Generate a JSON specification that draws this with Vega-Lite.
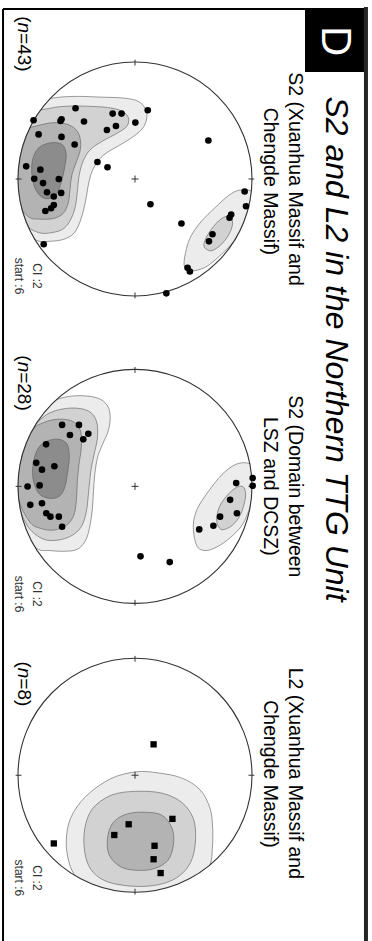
{
"$schema": "https://vega.github.io/schema/vega-lite/v6.json",
"width": 372, "height": 941, "padding": 0,
"autosize": {"type": "none"},
"background": "white",
"config": {"view": {"stroke": null}},
"datasets": {
"nets": [{"net":1,"x":0,"y":0},{"net":2,"x":0,"y":2.627},{"net":3,"x":0,"y":5.096}],
"ticks": [
{"x":0,"y":-1.02,"x2":0,"y2":-0.97},{"x":0,"y":0.97,"x2":0,"y2":1.02},{"x":-1.02,"y":0,"x2":-0.97,"y2":0},{"x":0.97,"y":0,"x2":1.02,"y2":0},{"x":-0.03,"y":0,"x2":0.03,"y2":0},{"x":0,"y":-0.03,"x2":0,"y2":0.03},
{"x":0,"y":1.607,"x2":0,"y2":1.657},{"x":0,"y":3.597,"x2":0,"y2":3.647},{"x":-1.02,"y":2.627,"x2":-0.97,"y2":2.627},{"x":0.97,"y":2.627,"x2":1.02,"y2":2.627},{"x":-0.03,"y":2.627,"x2":0.03,"y2":2.627},{"x":0,"y":2.597,"x2":0,"y2":2.657},
{"x":0,"y":4.076,"x2":0,"y2":4.126},{"x":0,"y":6.066,"x2":0,"y2":6.116},{"x":-1.02,"y":5.096,"x2":-0.97,"y2":5.096},{"x":0.97,"y":5.096,"x2":1.02,"y2":5.096},{"x":-0.03,"y":5.096,"x2":0.03,"y2":5.096},{"x":0,"y":5.066,"x2":0,"y2":5.126}
],
"contours": [
{"p":"1A","l":1,"i":0,"x":-0.780,"y":-0.668},{"p":"1A","l":1,"i":1,"x":-0.666,"y":-0.697},{"p":"1A","l":1,"i":2,"x":-0.493,"y":-0.706},{"p":"1A","l":1,"i":3,"x":-0.292,"y":-0.700},{"p":"1A","l":1,"i":4,"x":-0.091,"y":-0.691},{"p":"1A","l":1,"i":5,"x":0.030,"y":-0.663},{"p":"1A","l":1,"i":6,"x":0.090,"y":-0.597},{"p":"1A","l":1,"i":7,"x":0.101,"y":-0.525},{"p":"1A","l":1,"i":8,"x":0.070,"y":-0.439},{"p":"1A","l":1,"i":9,"x":-0.017,"y":-0.361},{"p":"1A","l":1,"i":10,"x":-0.131,"y":-0.289},{"p":"1A","l":1,"i":11,"x":-0.235,"y":-0.229},{"p":"1A","l":1,"i":12,"x":-0.307,"y":-0.166},{"p":"1A","l":1,"i":13,"x":-0.361,"y":-0.080},{"p":"1A","l":1,"i":14,"x":-0.393,"y":0.021},{"p":"1A","l":1,"i":15,"x":-0.413,"y":0.136},{"p":"1A","l":1,"i":16,"x":-0.436,"y":0.251},{"p":"1A","l":1,"i":17,"x":-0.470,"y":0.366},{"p":"1A","l":1,"i":18,"x":-0.522,"y":0.463},{"p":"1A","l":1,"i":19,"x":-0.608,"y":0.515},{"p":"1A","l":1,"i":20,"x":-0.723,"y":0.532},{"p":"1A","l":1,"i":21,"x":-0.838,"y":0.526},{"p":"1A","l":1,"i":22,"x":-0.947,"y":0.423},{"p":"1A","l":1,"i":23,"x":-1.025,"y":0.193},{"p":"1A","l":1,"i":24,"x":-1.039,"y":0.007},{"p":"1A","l":1,"i":25,"x":-1.016,"y":-0.238},{"p":"1A","l":1,"i":26,"x":-0.938,"y":-0.439},{"p":"1A","l":1,"i":27,"x":-0.852,"y":-0.582},
{"p":"1B","l":2,"i":0,"x":-0.867,"y":-0.553},{"p":"1B","l":2,"i":1,"x":-0.723,"y":-0.605},{"p":"1B","l":2,"i":2,"x":-0.579,"y":-0.622},{"p":"1B","l":2,"i":3,"x":-0.407,"y":-0.622},{"p":"1B","l":2,"i":4,"x":-0.235,"y":-0.611},{"p":"1B","l":2,"i":5,"x":-0.114,"y":-0.582},{"p":"1B","l":2,"i":6,"x":-0.057,"y":-0.525},{"p":"1B","l":2,"i":7,"x":-0.068,"y":-0.453},{"p":"1B","l":2,"i":8,"x":-0.149,"y":-0.393},{"p":"1B","l":2,"i":9,"x":-0.278,"y":-0.324},{"p":"1B","l":2,"i":10,"x":-0.384,"y":-0.249},{"p":"1B","l":2,"i":11,"x":-0.444,"y":-0.151},{"p":"1B","l":2,"i":12,"x":-0.476,"y":-0.037},{"p":"1B","l":2,"i":13,"x":-0.493,"y":0.107},{"p":"1B","l":2,"i":14,"x":-0.508,"y":0.228},{"p":"1B","l":2,"i":15,"x":-0.545,"y":0.337},{"p":"1B","l":2,"i":16,"x":-0.608,"y":0.423},{"p":"1B","l":2,"i":17,"x":-0.709,"y":0.458},{"p":"1B","l":2,"i":18,"x":-0.824,"y":0.458},{"p":"1B","l":2,"i":19,"x":-0.938,"y":0.380},{"p":"1B","l":2,"i":20,"x":-1.016,"y":0.165},{"p":"1B","l":2,"i":21,"x":-1.033,"y":-0.037},{"p":"1B","l":2,"i":22,"x":-0.996,"y":-0.324},
{"p":"1C","l":3,"i":0,"x":-0.953,"y":-0.410},{"p":"1C","l":3,"i":1,"x":-0.809,"y":-0.462},{"p":"1C","l":3,"i":2,"x":-0.666,"y":-0.482},{"p":"1C","l":3,"i":3,"x":-0.545,"y":-0.453},{"p":"1C","l":3,"i":4,"x":-0.479,"y":-0.381},{"p":"1C","l":3,"i":5,"x":-0.465,"y":-0.266},{"p":"1C","l":3,"i":6,"x":-0.499,"y":-0.151},{"p":"1C","l":3,"i":7,"x":-0.539,"y":-0.037},{"p":"1C","l":3,"i":8,"x":-0.556,"y":0.093},{"p":"1C","l":3,"i":9,"x":-0.571,"y":0.208},{"p":"1C","l":3,"i":10,"x":-0.614,"y":0.294},{"p":"1C","l":3,"i":11,"x":-0.694,"y":0.337},{"p":"1C","l":3,"i":12,"x":-0.809,"y":0.343},{"p":"1C","l":3,"i":13,"x":-0.910,"y":0.323},{"p":"1C","l":3,"i":14,"x":-0.996,"y":0.193},{"p":"1C","l":3,"i":15,"x":-1.025,"y":-0.094},{"p":"1C","l":3,"i":16,"x":-0.996,"y":-0.295},
{"p":"1D","l":4,"i":0,"x":-0.824,"y":-0.266},{"p":"1D","l":4,"i":1,"x":-0.723,"y":-0.309},{"p":"1D","l":4,"i":2,"x":-0.623,"y":-0.295},{"p":"1D","l":4,"i":3,"x":-0.588,"y":-0.209},{"p":"1D","l":4,"i":4,"x":-0.602,"y":-0.094},{"p":"1D","l":4,"i":5,"x":-0.628,"y":0.021},{"p":"1D","l":4,"i":6,"x":-0.666,"y":0.121},{"p":"1D","l":4,"i":7,"x":-0.723,"y":0.165},{"p":"1D","l":4,"i":8,"x":-0.795,"y":0.156},{"p":"1D","l":4,"i":9,"x":-0.852,"y":0.084},{"p":"1D","l":4,"i":10,"x":-0.881,"y":-0.037},{"p":"1D","l":4,"i":11,"x":-0.875,"y":-0.166},
{"p":"1E","l":1,"i":0,"x":0.440,"y":0.595},{"p":"1E","l":1,"i":1,"x":0.420,"y":0.739},{"p":"1E","l":1,"i":2,"x":0.478,"y":0.785},{"p":"1E","l":1,"i":3,"x":0.598,"y":0.756},{"p":"1E","l":1,"i":4,"x":0.713,"y":0.667},{"p":"1E","l":1,"i":5,"x":0.828,"y":0.552},{"p":"1E","l":1,"i":6,"x":0.920,"y":0.423},{"p":"1E","l":1,"i":7,"x":0.977,"y":0.279},{"p":"1E","l":1,"i":8,"x":1.029,"y":0.193},{"p":"1E","l":1,"i":9,"x":1.006,"y":0.107},{"p":"1E","l":1,"i":10,"x":0.891,"y":0.096},{"p":"1E","l":1,"i":11,"x":0.799,"y":0.142},{"p":"1E","l":1,"i":12,"x":0.684,"y":0.245},{"p":"1E","l":1,"i":13,"x":0.569,"y":0.360},{"p":"1E","l":1,"i":14,"x":0.483,"y":0.480},
{"p":"1F","l":2,"i":0,"x":0.598,"y":0.590},{"p":"1F","l":2,"i":1,"x":0.656,"y":0.613},{"p":"1F","l":2,"i":2,"x":0.742,"y":0.555},{"p":"1F","l":2,"i":3,"x":0.811,"y":0.458},{"p":"1F","l":2,"i":4,"x":0.834,"y":0.366},{"p":"1F","l":2,"i":5,"x":0.793,"y":0.317},{"p":"1F","l":2,"i":6,"x":0.713,"y":0.360},{"p":"1F","l":2,"i":7,"x":0.633,"y":0.458},{"p":"1F","l":2,"i":8,"x":0.592,"y":0.544},
{"p":"2A","l":1,"i":0,"x":-0.795,"y":1.981},{"p":"2A","l":1,"i":1,"x":-0.680,"y":1.889},{"p":"2A","l":1,"i":2,"x":-0.499,"y":1.852},{"p":"2A","l":1,"i":3,"x":-0.321,"y":1.872},{"p":"2A","l":1,"i":4,"x":-0.235,"y":1.938},{"p":"2A","l":1,"i":5,"x":-0.212,"y":2.039},{"p":"2A","l":1,"i":6,"x":-0.229,"y":2.154},{"p":"2A","l":1,"i":7,"x":-0.278,"y":2.269},{"p":"2A","l":1,"i":8,"x":-0.321,"y":2.383},{"p":"2A","l":1,"i":9,"x":-0.344,"y":2.527},{"p":"2A","l":1,"i":10,"x":-0.355,"y":2.671},{"p":"2A","l":1,"i":11,"x":-0.364,"y":2.814},{"p":"2A","l":1,"i":12,"x":-0.384,"y":2.958},{"p":"2A","l":1,"i":13,"x":-0.421,"y":3.087},{"p":"2A","l":1,"i":14,"x":-0.493,"y":3.165},{"p":"2A","l":1,"i":15,"x":-0.608,"y":3.182},{"p":"2A","l":1,"i":16,"x":-0.723,"y":3.176},{"p":"2A","l":1,"i":17,"x":-0.838,"y":3.159},{"p":"2A","l":1,"i":18,"x":-0.953,"y":3.015},{"p":"2A","l":1,"i":19,"x":-1.025,"y":2.728},{"p":"2A","l":1,"i":20,"x":-1.025,"y":2.470},{"p":"2A","l":1,"i":21,"x":-0.953,"y":2.211},{"p":"2A","l":1,"i":22,"x":-0.867,"y":2.068},
{"p":"2B","l":2,"i":0,"x":-0.852,"y":2.096},{"p":"2B","l":2,"i":1,"x":-0.723,"y":1.996},{"p":"2B","l":2,"i":2,"x":-0.551,"y":1.958},{"p":"2B","l":2,"i":3,"x":-0.401,"y":1.981},{"p":"2B","l":2,"i":4,"x":-0.330,"y":2.068},{"p":"2B","l":2,"i":5,"x":-0.321,"y":2.211},{"p":"2B","l":2,"i":6,"x":-0.350,"y":2.355},{"p":"2B","l":2,"i":7,"x":-0.378,"y":2.498},{"p":"2B","l":2,"i":8,"x":-0.396,"y":2.671},{"p":"2B","l":2,"i":9,"x":-0.416,"y":2.843},{"p":"2B","l":2,"i":10,"x":-0.459,"y":2.972},{"p":"2B","l":2,"i":11,"x":-0.545,"y":3.050},{"p":"2B","l":2,"i":12,"x":-0.666,"y":3.087},{"p":"2B","l":2,"i":13,"x":-0.795,"y":3.073},{"p":"2B","l":2,"i":14,"x":-0.924,"y":2.958},{"p":"2B","l":2,"i":15,"x":-1.005,"y":2.728},{"p":"2B","l":2,"i":16,"x":-1.010,"y":2.412},{"p":"2B","l":2,"i":17,"x":-0.953,"y":2.211},
{"p":"2C","l":3,"i":0,"x":-0.881,"y":2.154},{"p":"2C","l":3,"i":1,"x":-0.780,"y":2.082},{"p":"2C","l":3,"i":2,"x":-0.651,"y":2.053},{"p":"2C","l":3,"i":3,"x":-0.528,"y":2.073},{"p":"2C","l":3,"i":4,"x":-0.465,"y":2.154},{"p":"2C","l":3,"i":5,"x":-0.459,"y":2.297},{"p":"2C","l":3,"i":6,"x":-0.479,"y":2.441},{"p":"2C","l":3,"i":7,"x":-0.493,"y":2.584},{"p":"2C","l":3,"i":8,"x":-0.499,"y":2.728},{"p":"2C","l":3,"i":9,"x":-0.522,"y":2.872},{"p":"2C","l":3,"i":10,"x":-0.585,"y":2.958},{"p":"2C","l":3,"i":11,"x":-0.694,"y":3.001},{"p":"2C","l":3,"i":12,"x":-0.809,"y":2.986},{"p":"2C","l":3,"i":13,"x":-0.901,"y":2.929},{"p":"2C","l":3,"i":14,"x":-0.996,"y":2.728},{"p":"2C","l":3,"i":15,"x":-1.010,"y":2.412},
{"p":"2D","l":4,"i":0,"x":-0.824,"y":2.297},{"p":"2D","l":4,"i":1,"x":-0.752,"y":2.240},{"p":"2D","l":4,"i":2,"x":-0.651,"y":2.225},{"p":"2D","l":4,"i":3,"x":-0.579,"y":2.269},{"p":"2D","l":4,"i":4,"x":-0.562,"y":2.383},{"p":"2D","l":4,"i":5,"x":-0.579,"y":2.527},{"p":"2D","l":4,"i":6,"x":-0.602,"y":2.642},{"p":"2D","l":4,"i":7,"x":-0.651,"y":2.714},{"p":"2D","l":4,"i":8,"x":-0.737,"y":2.728},{"p":"2D","l":4,"i":9,"x":-0.824,"y":2.685},{"p":"2D","l":4,"i":10,"x":-0.872,"y":2.556},{"p":"2D","l":4,"i":11,"x":-0.867,"y":2.412},
{"p":"2E","l":1,"i":0,"x":0.498,"y":2.958},{"p":"2E","l":1,"i":1,"x":0.526,"y":3.130},{"p":"2E","l":1,"i":2,"x":0.598,"y":3.176},{"p":"2E","l":1,"i":3,"x":0.699,"y":3.145},{"p":"2E","l":1,"i":4,"x":0.813,"y":3.067},{"p":"2E","l":1,"i":5,"x":0.920,"y":2.952},{"p":"2E","l":1,"i":6,"x":0.986,"y":2.800},{"p":"2E","l":1,"i":7,"x":1.058,"y":2.613},{"p":"2E","l":1,"i":8,"x":1.029,"y":2.470},{"p":"2E","l":1,"i":9,"x":0.957,"y":2.427},{"p":"2E","l":1,"i":10,"x":0.857,"y":2.441},{"p":"2E","l":1,"i":11,"x":0.742,"y":2.527},{"p":"2E","l":1,"i":12,"x":0.627,"y":2.671},{"p":"2E","l":1,"i":13,"x":0.535,"y":2.814},
{"p":"2F","l":2,"i":0,"x":0.707,"y":2.958},{"p":"2F","l":2,"i":1,"x":0.748,"y":2.998},{"p":"2F","l":2,"i":2,"x":0.834,"y":2.958},{"p":"2F","l":2,"i":3,"x":0.903,"y":2.866},{"p":"2F","l":2,"i":4,"x":0.943,"y":2.728},{"p":"2F","l":2,"i":5,"x":0.934,"y":2.642},{"p":"2F","l":2,"i":6,"x":0.885,"y":2.628},{"p":"2F","l":2,"i":7,"x":0.805,"y":2.685},{"p":"2F","l":2,"i":8,"x":0.730,"y":2.785},{"p":"2F","l":2,"i":9,"x":0.699,"y":2.886},
{"p":"3A","l":1,"i":0,"x":0.009,"y":5.067},{"p":"3A","l":1,"i":1,"x":0.196,"y":5.076},{"p":"3A","l":1,"i":2,"x":0.397,"y":5.119},{"p":"3A","l":1,"i":3,"x":0.555,"y":5.219},{"p":"3A","l":1,"i":4,"x":0.641,"y":5.377},{"p":"3A","l":1,"i":5,"x":0.664,"y":5.550},{"p":"3A","l":1,"i":6,"x":0.661,"y":5.722},{"p":"3A","l":1,"i":7,"x":0.641,"y":5.866},{"p":"3A","l":1,"i":8,"x":0.541,"y":6.067},{"p":"3A","l":1,"i":9,"x":0.282,"y":6.210},{"p":"3A","l":1,"i":10,"x":-0.005,"y":6.253},{"p":"3A","l":1,"i":11,"x":-0.292,"y":6.210},{"p":"3A","l":1,"i":12,"x":-0.436,"y":6.067},{"p":"3A","l":1,"i":13,"x":-0.516,"y":5.952},{"p":"3A","l":1,"i":14,"x":-0.565,"y":5.837},{"p":"3A","l":1,"i":15,"x":-0.588,"y":5.665},{"p":"3A","l":1,"i":16,"x":-0.551,"y":5.464},{"p":"3A","l":1,"i":17,"x":-0.421,"y":5.277},{"p":"3A","l":1,"i":18,"x":-0.206,"y":5.125},
{"p":"3B","l":2,"i":0,"x":-0.005,"y":5.234},{"p":"3B","l":2,"i":1,"x":0.225,"y":5.248},{"p":"3B","l":2,"i":2,"x":0.397,"y":5.326},{"p":"3B","l":2,"i":3,"x":0.498,"y":5.464},{"p":"3B","l":2,"i":4,"x":0.518,"y":5.636},{"p":"3B","l":2,"i":5,"x":0.489,"y":5.808},{"p":"3B","l":2,"i":6,"x":0.411,"y":5.929},{"p":"3B","l":2,"i":7,"x":0.282,"y":6.009},{"p":"3B","l":2,"i":8,"x":0.110,"y":6.044},{"p":"3B","l":2,"i":9,"x":-0.091,"y":6.038},{"p":"3B","l":2,"i":10,"x":-0.264,"y":5.995},{"p":"3B","l":2,"i":11,"x":-0.378,"y":5.900},{"p":"3B","l":2,"i":12,"x":-0.430,"y":5.751},{"p":"3B","l":2,"i":13,"x":-0.430,"y":5.555},{"p":"3B","l":2,"i":14,"x":-0.364,"y":5.383},{"p":"3B","l":2,"i":15,"x":-0.206,"y":5.268},
{"p":"3C","l":3,"i":0,"x":0.052,"y":5.412},{"p":"3C","l":3,"i":1,"x":0.225,"y":5.435},{"p":"3C","l":3,"i":2,"x":0.317,"y":5.550},{"p":"3C","l":3,"i":3,"x":0.328,"y":5.693},{"p":"3C","l":3,"i":4,"x":0.282,"y":5.823},{"p":"3C","l":3,"i":5,"x":0.167,"y":5.894},{"p":"3C","l":3,"i":6,"x":0.024,"y":5.909},{"p":"3C","l":3,"i":7,"x":-0.120,"y":5.880},{"p":"3C","l":3,"i":8,"x":-0.220,"y":5.779},{"p":"3C","l":3,"i":9,"x":-0.235,"y":5.636},{"p":"3C","l":3,"i":10,"x":-0.192,"y":5.507},{"p":"3C","l":3,"i":11,"x":-0.091,"y":5.435}
],
"poles": [
{"net":1,"x":0.109,"y":-0.588},{"net":1,"x":-0.191,"y":-0.559},{"net":1,"x":-0.115,"y":-0.559},{"net":1,"x":-0.508,"y":-0.605},{"net":1,"x":-0.867,"y":-0.502},{"net":1,"x":-0.628,"y":-0.510},{"net":1,"x":-0.637,"y":-0.496},{"net":1,"x":-0.436,"y":-0.491},{"net":1,"x":0.003,"y":-0.482},{"net":1,"x":-0.163,"y":-0.453},{"net":1,"x":-0.240,"y":-0.419},{"net":1,"x":-0.824,"y":-0.381},{"net":1,"x":-0.628,"y":-0.360},{"net":1,"x":-0.516,"y":-0.295},{"net":1,"x":0.627,"y":-0.329},{"net":1,"x":-0.321,"y":-0.145},{"net":1,"x":-0.235,"y":-0.100},{"net":1,"x":-0.930,"y":-0.108},{"net":1,"x":-0.809,"y":-0.080},{"net":1,"x":-0.861,"y":-0.002},{"net":1,"x":-0.786,"y":0.035},{"net":1,"x":-0.651,"y":0.001},{"net":1,"x":-0.752,"y":0.113},{"net":1,"x":-0.631,"y":0.119},{"net":1,"x":-0.694,"y":0.150},{"net":1,"x":0.132,"y":0.216},{"net":1,"x":-0.694,"y":0.222},{"net":1,"x":-0.717,"y":0.250},{"net":1,"x":-0.766,"y":0.274},{"net":1,"x":0.937,"y":0.107},{"net":1,"x":0.949,"y":0.233},{"net":1,"x":0.822,"y":0.303},{"net":1,"x":0.808,"y":0.331},{"net":1,"x":0.397,"y":0.380},{"net":1,"x":0.662,"y":0.472},{"net":1,"x":0.632,"y":0.533},{"net":1,"x":-0.780,"y":0.558},{"net":1,"x":0.449,"y":0.759},{"net":1,"x":0.469,"y":0.791},{"net":1,"x":0.268,"y":0.977},
{"net":2,"x":-0.623,"y":2.102},{"net":2,"x":-0.479,"y":2.102},{"net":2,"x":-0.556,"y":2.188},{"net":2,"x":-0.399,"y":2.177},{"net":2,"x":-0.442,"y":2.225},{"net":2,"x":-0.760,"y":2.268},{"net":2,"x":-0.844,"y":2.426},{"net":2,"x":-0.689,"y":2.455},{"net":2,"x":-0.795,"y":2.484},{"net":2,"x":-0.918,"y":2.628},{"net":2,"x":-0.815,"y":2.619},{"net":2,"x":-0.895,"y":2.785},{"net":2,"x":-0.795,"y":2.771},{"net":2,"x":-0.758,"y":2.857},{"net":2,"x":-0.723,"y":2.886},{"net":2,"x":-0.651,"y":2.886},{"net":2,"x":-0.623,"y":2.972},{"net":2,"x":0.047,"y":3.225},{"net":2,"x":0.297,"y":3.274},{"net":2,"x":0.865,"y":2.599},{"net":2,"x":1.006,"y":2.556},{"net":2,"x":1.006,"y":2.622},{"net":2,"x":0.813,"y":2.742},{"net":2,"x":0.871,"y":2.857},{"net":2,"x":0.727,"y":2.886},{"net":2,"x":0.670,"y":2.964},{"net":2,"x":0.549,"y":2.995}
],
"lineations": [
{"net":3,"x":0.159,"y":4.832},{"net":3,"x":0.320,"y":5.469},{"net":3,"x":-0.054,"y":5.515},{"net":3,"x":-0.177,"y":5.607},{"net":3,"x":0.167,"y":5.699},{"net":3,"x":0.159,"y":5.814},{"net":3,"x":0.219,"y":5.932},{"net":3,"x":-0.694,"y":5.679}
],
"labels": [
{"kind":"title","label":"S2 and L2 in the Northern TTG Unit","x":1.632,"y":1.453},
{"kind":"panel","label":"D","x":1.709,"y":-1.179},
{"kind":"sub","label":"S2 (Xuanhua Massif and","x":1.316,"y":0.0},
{"kind":"sub","label":"Chengde Massif)","x":1.103,"y":0.02},
{"kind":"sub","label":"S2 (Domain between","x":1.316,"y":2.627},
{"kind":"sub","label":"LSZ and DCSZ)","x":1.103,"y":2.627},
{"kind":"sub","label":"L2 (Xuanhua Massif and","x":1.316,"y":5.08},
{"kind":"sub","label":"Chengde Massif)","x":1.103,"y":5.085},
{"kind":"nr","label":"(","x":-0.996,"y":-1.391},
{"kind":"ni","label":"n","x":-0.996,"y":-1.337},
{"kind":"nr","label":"=43)","x":-0.996,"y":-1.247},
{"kind":"nr","label":"(","x":-0.996,"y":1.507},
{"kind":"ni","label":"n","x":-0.996,"y":1.561},
{"kind":"nr","label":"=28)","x":-0.996,"y":1.651},
{"kind":"nr","label":"(","x":-0.996,"y":4.124},
{"kind":"ni","label":"n","x":-0.996,"y":4.178},
{"kind":"nr","label":"=8)","x":-0.996,"y":4.268},
{"kind":"ci","label":"CI :2","x":-0.872,"y":0.829},
{"kind":"ci","label":"start :6","x":-1.026,"y":0.829},
{"kind":"ci","label":"CI :2","x":-0.872,"y":3.547},
{"kind":"ci","label":"start :6","x":-1.026,"y":3.547},
{"kind":"ci","label":"CI :2","x":-0.872,"y":5.974},
{"kind":"ci","label":"start :6","x":-1.026,"y":5.974}
],
"box": [{"x":1.453,"x2":1.957,"y":-1.462,"y2":-0.915}],
"frame": [
{"side":"left","x":-1.128,"y":-1.453,"x2":-1.128,"y2":6.52},
{"side":"top","x":-1.128,"y":-1.453,"x2":1.974,"y2":-1.453},
{"side":"right","x":1.974,"y":-1.47,"x2":1.974,"y2":6.52}
]
},
"encoding": {
"x": {"field":"x","type":"quantitative","scale":{"domain":[-1.1538,2.0256],"nice":false,"zero":false},"axis":null},
"y": {"field":"y","type":"quantitative","scale":{"domain":[-1.5299,6.5128],"nice":false,"zero":false,"reverse":true},"axis":null}
},
"layer": [
{"data":{"name":"contours"},"transform":[{"filter":"datum.l == 1"}],"mark":{"type":"line","interpolate":"cardinal-closed","fill":"#ececec","stroke":"#5a5a5a","strokeWidth":0.6},"encoding":{"detail":{"field":"p"},"order":{"field":"i","type":"quantitative"}}},
{"data":{"name":"contours"},"transform":[{"filter":"datum.l == 2"}],"mark":{"type":"line","interpolate":"cardinal-closed","fill":"#d2d2d2","stroke":"#5a5a5a","strokeWidth":0.6},"encoding":{"detail":{"field":"p"},"order":{"field":"i","type":"quantitative"}}},
{"data":{"name":"contours"},"transform":[{"filter":"datum.l == 3"}],"mark":{"type":"line","interpolate":"cardinal-closed","fill":"#b3b3b3","stroke":"#5a5a5a","strokeWidth":0.6},"encoding":{"detail":{"field":"p"},"order":{"field":"i","type":"quantitative"}}},
{"data":{"name":"contours"},"transform":[{"filter":"datum.l == 4"}],"mark":{"type":"line","interpolate":"cardinal-closed","fill":"#8c8c8c","stroke":"#5a5a5a","strokeWidth":0.6},"encoding":{"detail":{"field":"p"},"order":{"field":"i","type":"quantitative"}}},
{"data":{"name":"nets"},"mark":{"type":"point","shape":"circle","filled":false,"size":65025,"stroke":"white","strokeWidth":20,"opacity":1}},
{"data":{"name":"nets"},"mark":{"type":"point","shape":"circle","filled":false,"size":54756,"stroke":"#333333","strokeWidth":1.1,"opacity":1}},
{"data":{"name":"ticks"},"mark":{"type":"rule","stroke":"#333333","strokeWidth":1},"encoding":{"x2":{"field":"x2"},"y2":{"field":"y2"}}},
{"data":{"name":"poles"},"mark":{"type":"point","shape":"circle","filled":true,"size":44,"color":"black","opacity":1}},
{"data":{"name":"lineations"},"mark":{"type":"point","shape":"square","filled":true,"size":40,"color":"black","opacity":1}},
{"data":{"name":"box"},"mark":{"type":"rect","color":"black"},"encoding":{"x2":{"field":"x2"},"y2":{"field":"y2"}}},
{"data":{"name":"labels"},"transform":[{"filter":"datum.kind == 'panel'"}],"mark":{"type":"text","angle":90,"align":"center","baseline":"middle","font":"Liberation Sans","fontSize":42,"color":"white"},"encoding":{"text":{"field":"label"}}},
{"data":{"name":"labels"},"transform":[{"filter":"datum.kind == 'title'"}],"mark":{"type":"text","angle":90,"align":"center","baseline":"alphabetic","font":"Liberation Sans","fontStyle":"italic","fontSize":32,"color":"black"},"encoding":{"text":{"field":"label"}}},
{"data":{"name":"labels"},"transform":[{"filter":"datum.kind == 'sub'"}],"mark":{"type":"text","angle":90,"align":"center","baseline":"alphabetic","font":"Liberation Sans","fontSize":19.5,"color":"black"},"encoding":{"text":{"field":"label"}}},
{"data":{"name":"labels"},"transform":[{"filter":"datum.kind == 'nr'"}],"mark":{"type":"text","angle":90,"align":"left","baseline":"alphabetic","font":"Liberation Sans","fontSize":19,"color":"black"},"encoding":{"text":{"field":"label"}}},
{"data":{"name":"labels"},"transform":[{"filter":"datum.kind == 'ni'"}],"mark":{"type":"text","angle":90,"align":"left","baseline":"alphabetic","font":"Liberation Sans","fontStyle":"italic","fontSize":19,"color":"black"},"encoding":{"text":{"field":"label"}}},
{"data":{"name":"labels"},"transform":[{"filter":"datum.kind == 'ci'"}],"mark":{"type":"text","angle":90,"align":"center","baseline":"alphabetic","font":"Liberation Sans","fontSize":12,"color":"#333333"},"encoding":{"text":{"field":"label"}}},
{"data":{"name":"frame"},"transform":[{"filter":"datum.side != 'right'"}],"mark":{"type":"rule","stroke":"black","strokeWidth":2},"encoding":{"x2":{"field":"x2"},"y2":{"field":"y2"}}},
{"data":{"name":"frame"},"transform":[{"filter":"datum.side == 'right'"}],"mark":{"type":"rule","stroke":"#262626","strokeWidth":4},"encoding":{"x2":{"field":"x2"},"y2":{"field":"y2"}}}
]
}
